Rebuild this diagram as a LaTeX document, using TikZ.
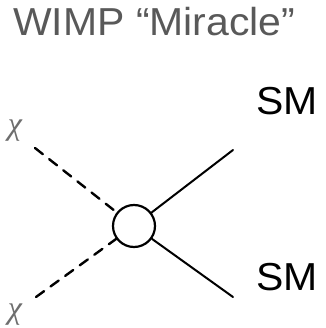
\documentclass[tikz,border=0pt]{standalone}
\usepackage{fontspec}
\setmainfont{Liberation Sans}
\newfontfamily\greekfont{Liberation Serif}
\usepackage{graphicx}
\definecolor{titlegrey}{HTML}{595959}
\definecolor{chigrey}{HTML}{6E6E6E}
\begin{document}
\begin{tikzpicture}[x=1pt,y=-1pt,
  lbl/.style={inner sep=0pt, anchor=base west},
  chilbl/.style={text=chigrey, font=\greekfont\itshape\fontsize{32}{32}\selectfont, inner sep=0pt},
  fermion/.style={line width=2pt, line cap=round},
  scalar/.style={line width=2.4pt, dash pattern=on 10pt off 8pt, line cap=round},
  blob/.style={circle, draw, line width=2.2pt, minimum size=42pt, inner sep=0pt}]
\useasboundingbox (0,0) rectangle (325,328);
\node[lbl, text=titlegrey, font=\fontsize{39}{39}\selectfont] (title) at (13,36) {\scalebox{1.05}[1]{WIMP “Miracle”}};
\node[blob] (v) at (134,226) {};
\coordinate (a1) at (35,148);
\coordinate (a2) at (36,297);
\coordinate (b1) at (233,150);
\coordinate (b2) at (233,297);
\draw[scalar] (a1) -- (v);
\draw[scalar] (a2) -- (v);
\draw[fermion] (v) -- (b1);
\draw[fermion] (v) -- (b2);
\node[chilbl] (chi1) at (15,131) {χ};
\node[chilbl] (chi2) at (15,315) {χ};
\node[lbl, font=\fontsize{39}{39}\selectfont] (sm1) at (256,115) {\scalebox{1.05}[1]{SM}};
\node[lbl, font=\fontsize{39}{39}\selectfont] (sm2) at (256,290) {\scalebox{1.05}[1]{SM}};
\end{tikzpicture}
\end{document}
